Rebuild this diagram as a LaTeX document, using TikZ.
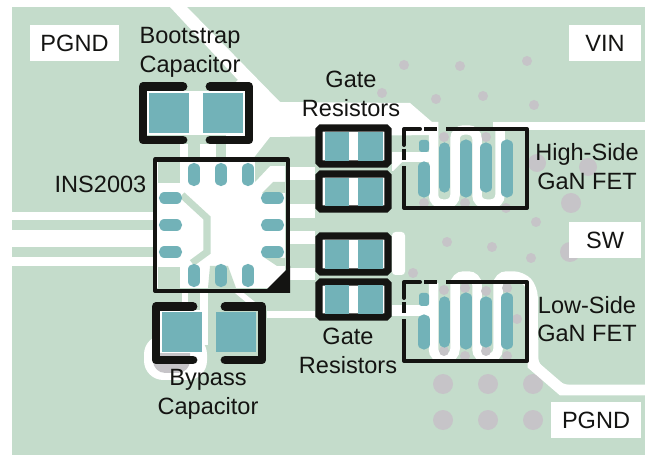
\documentclass[tikz,border=0pt]{standalone}
\usepackage{fontspec}
\setmainfont{Liberation Sans}
\pgfdeclarelayer{bg}
\pgfsetlayers{bg,main}
\definecolor{boardgreen}{RGB}{196,220,203}
\definecolor{padteal}{RGB}{114,178,184}
\definecolor{viagrey}{RGB}{198,196,200}
\definecolor{inkblack}{RGB}{20,20,18}
\tikzset{
    every node/.style={inner sep=0mm, text=inkblack, align=center, font=\fontsize{13.4}{16.4}\selectfont},
    namebox/.style={fill=white, minimum width=#1*0.02cm, minimum height=0.72cm},
    gap/.style={fill=white},
    patch/.style={fill=boardgreen},
    pad/.style={fill=padteal},
    pin/.style={draw=padteal, line width=6.4pt, line cap=round},
    fetpin/.style={draw=padteal, line width=6.4pt, line cap=round},
    padstub/.style={fill=padteal, rounded corners=1.5pt},
    snake/.style={draw=white, line width=5.4pt, rounded corners=5pt},
    outline/.style={draw=inkblack, line width=2.3pt, line join=round},
    bracket/.style={draw=inkblack, line width=5pt, line cap=round, line join=round},
    resbox/.style={draw=inkblack, line width=4pt, rounded corners=1pt, fill=white},
    via/.style={fill=viagrey},
}
\begin{document}
\begin{tikzpicture}[x=0.02cm, y=-0.02cm]
    \useasboundingbox (0,0) rectangle (645,455);

    \begin{pgfonlayer}{bg}
        \fill[white] (0,0) rectangle (645,455);
        \fill[boardgreen] (12,7) rectangle (645,455);

        \fill[via] (404,65) circle (5);
        \fill[via] (460,66) circle (5);
        \fill[via] (527,61) circle (5);
        \fill[via] (382,93) circle (5);
        \fill[via] (436,99) circle (5);
        \fill[via] (483,96) circle (5);
        \fill[via] (534,105) circle (5);
        \fill[via] (444,137) circle (5);
        \fill[via] (486,137) circle (5);
        \fill[via] (424,203) circle (5);
        \fill[via] (465,203) circle (5);
        \fill[via] (506,208) circle (5);
        \fill[via] (536,222) circle (5);
        \fill[via] (447,242) circle (5);
        \fill[via] (492,247) circle (5);
        \fill[via] (531,258) circle (5);
        \fill[via] (413,273) circle (5);
        \fill[via] (517,319) circle (5);
        \fill[via] (537,163) circle (9);
        \fill[via] (588,167) circle (9);
        \fill[via] (571,203) circle (10);
        \fill[via] (570,252) circle (10);
        \fill[via] (443,384) circle (10);
        \fill[via] (488,384) circle (10);
        \fill[via] (533,384) circle (10);
        \fill[via] (443,420) circle (10);
        \fill[via] (488,420) circle (10);
        \fill[via] (533,420) circle (10);

        \fill[gap] (170,7) -- (187,7) -- (280,102) -- (410,103) -- (432,122) -- (432,135) -- (270,137) -- (252,160) -- (226,162) -- (226,92) -- (238,80) -- cycle;
        \fill[gap] (200,144) rectangle (216,162);
        \fill[gap] (180,144) rectangle (188,162);
        \fill[gap] (12,212) rectangle (157,220);
        \fill[gap] (12,230) rectangle (157,247);
        \fill[gap] (12,257) rectangle (157,266);
        \fill[gap] (287,167) rectangle (315,180);
        \fill[gap] (287,204) rectangle (315,218);
        \fill[gap] (287,231) rectangle (315,244);
        \fill[gap] (287,268) rectangle (315,280);
        \fill[gap] (267,311) rectangle (315,318);
        \fill[gap] (182,293) rectangle (188,302);
        \fill[gap] (200,293) rectangle (208,345);
        \fill[gap] (235,293) -- (240,290) -- (255,302) -- (247,303) -- cycle;
        \fill[gap, rounded corners=11pt] (144,335) rectangle (207,380);
        \fill[via, rounded corners=7pt] (153,340) rectangle (190,373);
        \fill[gap] (392,152) rectangle (433,162);
        \fill[gap] (392,162) -- (402,162) -- (393,171) -- (392,171) -- cycle;
        \fill[gap] (392,305) rectangle (433,316);
        \fill[gap, rounded corners=2pt] (392,232) rectangle (405,275);

        \draw[snake] (433.5,122) -- (433.5,204) -- (455,204) -- (455,130) -- (477,130) -- (477,204) -- (500,204) -- (500,124);
        \fill[gap] (493,122) rectangle (645,130);
        \draw[snake] (433.5,283) -- (433.5,358) -- (455,358) -- (455,276) -- (477,276) -- (477,358) -- (498,358) -- (498,276) -- (522,276) -- (533,288) -- (533,365) -- (562,390) -- (645,390);
        \draw[draw=white, line width=6.2pt] (533,340) -- (533,365) -- (562,390) -- (645,390);

        \fill[via] (444,290) circle (5);
        \fill[via] (465,288) circle (5);
        \fill[via] (486,291) circle (5);
        \fill[via] (507,288) circle (5);
        \fill[via] (444,351) circle (5);
        \fill[via] (465,356) circle (5);
        \fill[via] (486,351) circle (5);
        \fill[via] (507,356) circle (5);
    \end{pgfonlayer}

    \fill[gap] (157,162) rectangle (285,288);
    \fill[patch] (158,161) rectangle (180,183);
    \fill[patch] (158,267) rectangle (180,289);
    \draw[draw=boardgreen, line width=4pt] (182,195) -- (207,218) -- (207,252) -- (192,263);
    \fill[patch] (255,161) -- (287,161) -- (287,166) -- (270,166) -- (255,182) -- cycle;
    \fill[patch] (273,182) -- (287,182) -- (287,193) -- (262,193) -- cycle;
    \fill[patch] (210,266) -- (228,266) -- (236,288) -- (208,288) -- cycle;
    \fill[patch] (265,258) -- (287,258) -- (287,266) -- (277,266) -- cycle;

    \draw[pin] (194,168.5) -- (194,180.5);
    \draw[pin] (221,168.5) -- (221,180.5);
    \draw[pin] (248,168.5) -- (248,180.5);
    \draw[pin] (194,269.5) -- (194,281.5);
    \draw[pin] (221,269.5) -- (221,281.5);
    \draw[pin] (248,269.5) -- (248,281.5);
    \draw[pin] (164.5,198) -- (176.5,198);
    \draw[pin] (164.5,225) -- (176.5,225);
    \draw[pin] (164.5,252) -- (176.5,252);
    \draw[pin] (266.5,198) -- (278.5,198);
    \draw[pin] (266.5,225) -- (278.5,225);
    \draw[pin] (266.5,252) -- (278.5,252);
    \fill[inkblack] (263,293) -- (290,266) -- (290,293) -- cycle;
    \draw[outline] (155,159.5) rectangle (288,291);

    \fill[gap] (147,91) rectangle (245,135);
    \fill[pad] (149,93) rectangle (189,133);
    \fill[pad] (203,93) rectangle (243,133);
    \draw[bracket] (183,86.5) -- (143,86.5) -- (143,140) -- (183,140);
    \draw[bracket] (210,86.5) -- (249,86.5) -- (249,140) -- (210,140);

    \fill[gap] (160,310) rectangle (202,353);
    \fill[pad] (162,312) rectangle (202,352);
    \fill[pad] (216,312) rectangle (256,352);
    \draw[bracket] (193,306.5) -- (156,306.5) -- (156,360) -- (193,360);
    \draw[bracket] (225,306.5) -- (262,306.5) -- (262,360) -- (225,360);

    \draw[resbox] (319,128) rectangle (388,164);
    \fill[pad] (325,132) rectangle (349,161);
    \fill[pad] (358,132) rectangle (383,161);
    \draw[resbox] (319,174) rectangle (388,209);
    \fill[pad] (325,178) rectangle (349,206);
    \fill[pad] (358,178) rectangle (383,206);
    \draw[resbox] (319,236) rectangle (388,272);
    \fill[pad] (325,240) rectangle (349,269);
    \fill[pad] (358,240) rectangle (383,269);
    \draw[resbox] (319,282) rectangle (388,317);
    \fill[pad] (325,285) rectangle (349,314);
    \fill[pad] (358,285) rectangle (383,314);

    \fill[padstub] (419,140) rectangle (429,152);
    \draw[fetpin] (424,167) -- (424,192);
    \draw[fetpin] (444.5,148) -- (444.5,187);
    \draw[fetpin] (466,145) -- (466,192);
    \draw[fetpin] (486,148) -- (486,187);
    \draw[fetpin] (507,145) -- (507,192);
    \draw[outline, line cap=round] (420,129) -- (404,129) -- (404,145);
    \draw[outline] (424,129) -- (437,129);
    \draw[outline] (404,149) -- (404,160);
    \draw[outline] (446,129) -- (527,129) -- (527,208) -- (404,208) -- (404,166);

    \fill[padstub] (419,293) rectangle (429,306);
    \draw[fetpin] (424,320) -- (424,344);
    \draw[fetpin] (444.5,302) -- (444.5,342);
    \draw[fetpin] (466,298) -- (466,344);
    \draw[fetpin] (486,302) -- (486,342);
    \draw[fetpin] (507,298) -- (507,344);
    \draw[outline, line cap=round] (420,282) -- (404,282) -- (404,298);
    \draw[outline] (424,282) -- (437,282);
    \draw[outline] (404,302) -- (404,313);
    \draw[outline] (446,282) -- (527,282) -- (527,361) -- (404,361) -- (404,319);

    \node (pgnda) [namebox=89] at (74.5,43) {PGND};
    \node (vin) [namebox=72] at (605,43) {VIN};
    \node (sw) [namebox=72] at (605,240) {SW};
    \node (pgndb) [namebox=90] at (596,420) {PGND};
    \node (boot) at (190,52.5) {Bootstrap\\Capacitor};
    \node (ins) at (100.5,184.5) {INS2003};
    \node (gatea) at (351,94) {Gate\\Resistors};
    \node (gateb) at (348,350.5) {Gate\\Resistors};
    \node (hs) at (587,166.5) {High-Side\\GaN FET};
    \node (ls) at (587,319) {Low-Side\\GaN FET};
    \node (byp) at (208,394.5) {Bypass\\Capacitor};
\end{tikzpicture}
\end{document}
